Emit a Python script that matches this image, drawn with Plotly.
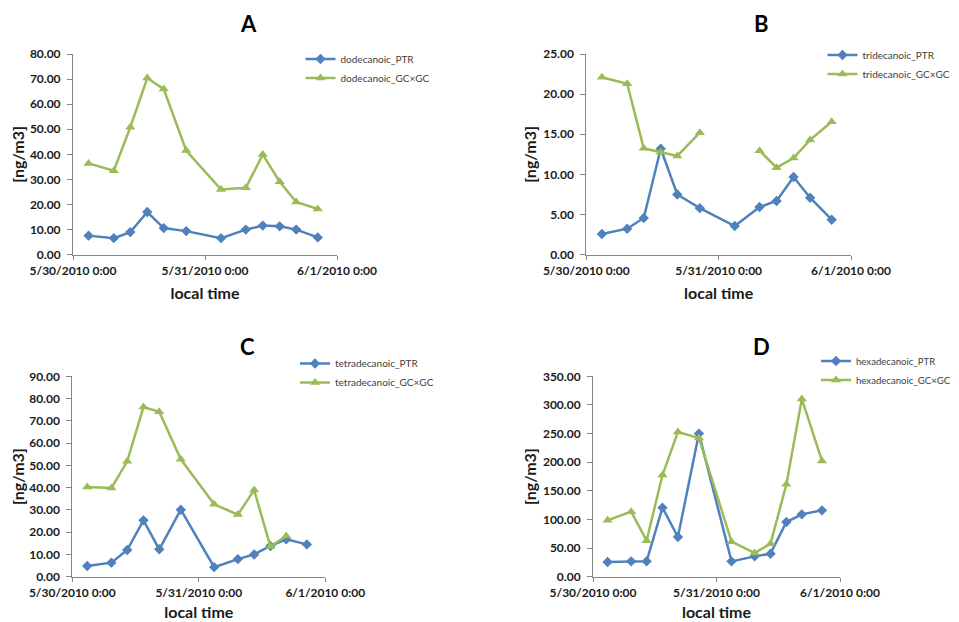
import plotly.graph_objects as go

times = ["2010-05-30 02:50", "2010-05-30 07:25", "2010-05-30 10:25", "2010-05-30 13:30",
         "2010-05-30 16:30", "2010-05-30 20:35", "2010-05-31 02:55", "2010-05-31 07:25",
         "2010-05-31 10:30", "2010-05-31 13:35", "2010-05-31 16:35", "2010-05-31 20:30"]

dodecanoic_ptr = [7.6, 6.6, 9.0, 17.0, 10.6, 9.4, 6.6, 10.0, 11.6, 11.3, 10.0, 6.9]
dodecanoic_gc = [36.4, 33.5, 50.8, 70.4, 66.0, 41.5, 26.0, 26.7, 39.9, 29.1, 21.0, 18.2]

tridecanoic_ptr = [2.57, 3.24, 4.57, 13.2, 7.5, 5.8, 3.57, 5.94, 6.69, 9.68, 7.1, 4.36]
tridecanoic_gc = [22.1, 21.3, 13.25, 12.75, 12.3, 15.2, None, 12.96, 10.84, 12.04, 14.3, 16.57]

tetradecanoic_ptr = [4.8, 6.3, 12.0, 25.3, 12.3, 30.1, 4.3, 7.9, 10.0, 13.8, 16.8, 14.5]
tetradecanoic_gc = [40.3, 39.8, 51.8, 76.2, 74.1, 52.7, 32.5, 27.9, 38.9, 13.6, 18.3, None]

hexadecanoic_ptr = [25.6, 26.8, 26.8, 120.6, 69.3, 249.9, 26.8, 35.5, 40.2, 95.5, 108.9, 115.9]
hexadecanoic_gc = [98.4, 113.6, 62.9, 177.6, 252.8, 242.3, 61.2, 41.4, 57.7, 161.3, 310.4, 202.1]

x_tickvals = ["2010-05-30 00:00", "2010-05-31 00:00", "2010-06-01 00:00"]
x_ticktext = ["5/30/2010 0:00", "5/31/2010 0:00", "6/1/2010 0:00"]

panels = [
    dict(letter="A", name="dodecanoic", ptr=dodecanoic_ptr, gc=dodecanoic_gc, ymax=80, dtick=10),
    dict(letter="B", name="tridecanoic", ptr=tridecanoic_ptr, gc=tridecanoic_gc, ymax=25, dtick=5),
    dict(letter="C", name="tetradecanoic", ptr=tetradecanoic_ptr, gc=tetradecanoic_gc, ymax=90, dtick=10),
    dict(letter="D", name="hexadecanoic", ptr=hexadecanoic_ptr, gc=hexadecanoic_gc, ymax=350, dtick=50),
]

W, H = 959, 622
OFF = 8  # page body margin in the browser
# plot areas in screen pixels: (x0, x1, ytop, ybottom)
areas = [(73, 337, 54, 254.7), (586.3, 851, 54, 254.7),
         (72.3, 325.3, 376.3, 576.7), (593, 840, 376.3, 576.7)]
title_pos = [(248, 24), (761, 24), (247, 346), (761, 346)]
legend_pos = [(300.5, 44.5), (822.5, 40.5), (295, 349), (816, 346.5)]
legend_size = [10, 10, 10, 9.6]
xtitle_standoff = [10, 10, 7, 7]

BLUE = "#4F81BD"
GREEN = "#9BBB59"
AXIS = "#868686"
FONT = "Lato"


def fx(px):
    return (px - OFF) / W


def fy(py):
    return 1 - (py - OFF) / H


fig = go.Figure()
annotations = []
for i, p in enumerate(panels):
    n = i + 1
    xa = "x" if n == 1 else f"x{n}"
    ya = "y" if n == 1 else f"y{n}"
    lg = "legend" if n == 1 else f"legend{n}"
    fig.add_trace(go.Scatter(x=times, y=p["ptr"], name=f"{p['name']}_PTR", mode="lines+markers",
                             line=dict(color=BLUE, width=2.5),
                             marker=dict(symbol="diamond", size=8, color=BLUE),
                             xaxis=xa, yaxis=ya, legend=lg))
    fig.add_trace(go.Scatter(x=times, y=p["gc"], name=f"{p['name']}_GC×GC", mode="lines+markers",
                             line=dict(color=GREEN, width=2.5),
                             marker=dict(symbol="triangle-up", size=9, color=GREEN),
                             xaxis=xa, yaxis=ya, legend=lg))
    x0, x1, yt, yb = areas[i]
    xkey = "xaxis" if n == 1 else f"xaxis{n}"
    ykey = "yaxis" if n == 1 else f"yaxis{n}"
    fig.update_layout({
        xkey: dict(domain=[fx(x0), fx(x1)], anchor=ya, type="date", automargin=False,
                   range=["2010-05-30 00:00", "2010-06-01 00:00"],
                   tickvals=x_tickvals, ticktext=x_ticktext,
                   showline=True, linecolor=AXIS, linewidth=1,
                   ticks="outside", ticklen=4, tickcolor=AXIS, showgrid=False, zeroline=False,
                   tickfont=dict(family=FONT, size=12, color="#1a1a1a", weight="bold"),
                   ticklabelstandoff=1,
                   title=dict(text="local time", standoff=xtitle_standoff[i],
                              font=dict(family=FONT, size=16, color="#1a1a1a", weight="bold"))),
        ykey: dict(domain=[fy(yb), fy(yt)], anchor=xa, automargin=False,
                   range=[0, p["ymax"]], dtick=p["dtick"], tickformat=".2f",
                   showline=True, linecolor=AXIS, linewidth=1,
                   ticks="outside", ticklen=5, tickcolor=AXIS, showgrid=False, zeroline=False,
                   tickfont=dict(family=FONT, size=12, color="#1a1a1a", weight="bold"),
                   ticklabelstandoff=4,
                   title=dict(text="[ng/m3]", standoff=2,
                              font=dict(family=FONT, size=16, color="#1a1a1a", weight="bold"))),
        lg: dict(x=fx(legend_pos[i][0]), y=fy(legend_pos[i][1]), xanchor="left", yanchor="top",
                 bgcolor="rgba(0,0,0,0)", font=dict(family=FONT, size=legend_size[i], color="#404040"),
                 itemwidth=30),
    })
    annotations.append(dict(text=p["letter"], x=fx(title_pos[i][0]), y=fy(title_pos[i][1]),
                            xref="paper", yref="paper", showarrow=False,
                            xanchor="center", yanchor="middle",
                            font=dict(family=FONT, size=22, color="#000000", weight="bold")))

fig.update_layout(width=W, height=H, margin=dict(l=0, r=0, t=0, b=0, autoexpand=False),
                  paper_bgcolor="white", plot_bgcolor="white",
                  annotations=annotations, showlegend=True)
fig.write_html("out.html")
